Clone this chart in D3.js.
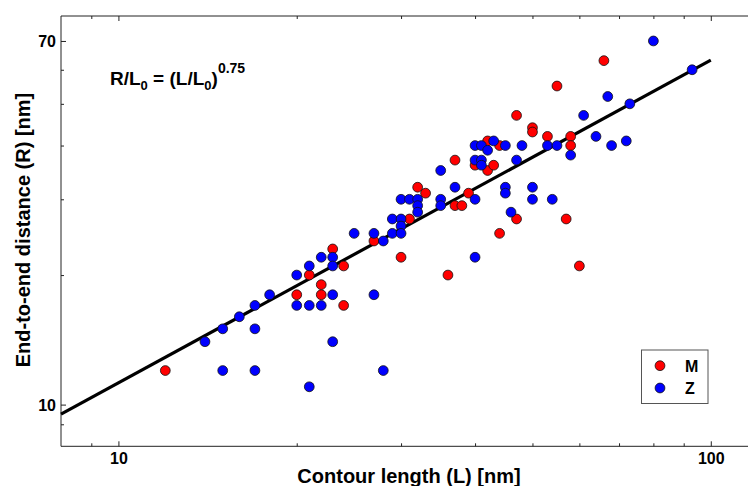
<!DOCTYPE html>
<html>
<head>
<meta charset="utf-8">
<script src="https://cdn.jsdelivr.net/npm/d3@7"></script>
<style>
  body { margin: 0; background: #fff; }
  svg { display: block; font-family: "Liberation Sans", Arial, sans-serif; font-weight: bold; }
</style>
</head>
<body>
<svg id="chart" width="748" height="486"></svg>
<script>
// contour length L and end-to-end distance R [nm]
const mL = [12, 20, 21, 22, 22, 23, 24, 24, 27, 30, 31, 32, 33, 36, 37, 37, 38, 39, 40, 42,
            42, 43, 44, 44, 47, 47, 50, 50, 53, 55, 57, 58, 58, 60, 66];
const mR = [12, 18, 20, 19, 18, 23, 21, 17, 24, 22, 27, 32, 31, 20, 37, 29, 29, 31, 36, 41,
            35, 36, 40, 25, 47, 27, 44, 43, 42, 55, 27, 42, 40, 21, 63];
const zL = [14, 15, 15, 16, 17, 17, 17, 18, 20, 20, 21, 21, 21, 22, 22, 23, 23, 23, 23, 25,
            27, 27, 28, 28, 29, 29, 30, 30, 30, 30, 31, 32, 32, 32, 35, 35, 35, 37, 40, 40,
            40, 40, 41, 41, 41, 42, 43, 45, 45, 45, 46, 47, 48, 50, 50, 53, 54, 55, 58, 61,
            64, 67, 68, 72, 73, 80, 93];
const zR = [14, 15, 12, 16, 17, 15, 12, 18, 20, 17, 21, 17, 11, 22, 17, 22, 21, 18, 14, 25,
            18, 25, 24, 12, 27, 25, 30, 27, 26, 25, 30, 30, 29, 28, 35, 30, 29, 32, 40, 37,
            30, 22, 40, 37, 36, 39, 41, 40, 32, 31, 28, 37, 40, 32, 30, 40, 30, 40, 38, 47,
            42, 52, 40, 41, 50, 70, 60];
// fitted power law R/L0 = (L/L0)^0.75, end points
const fitL = [8, 100];
const fitR = [9.5, 63.2];

const xMajor = [10, 100];
const xMinor = [9, 20, 30, 40, 50, 60, 70, 80, 90];
const yMajor = [10, 70];
const yMinor = [9, 20, 30, 40, 50, 60];

const series = [
  { name: 'M', color: '#ff0000', L: mL, R: mR },
  { name: 'Z', color: '#0000ff', L: zL, R: zR }
];

const svg = d3.select('#chart');
const plotLeft = 61, plotTop = 16, plotBottom = 446.3;

const x = d3.scaleLog().domain([8, 120]).range([plotLeft, 757.7]);
const y = d3.scaleLog().domain([8, 80]).range([plotBottom, plotTop]);

// spines
const axisColor = '#222';
svg.append('line').attr('x1', plotLeft).attr('x2', 748).attr('y1', plotTop).attr('y2', plotTop)
  .attr('stroke', axisColor);
svg.append('line').attr('x1', plotLeft).attr('x2', 748).attr('y1', plotBottom).attr('y2', plotBottom)
  .attr('stroke', axisColor);
svg.append('line').attr('x1', plotLeft).attr('x2', plotLeft).attr('y1', plotTop).attr('y2', plotBottom)
  .attr('stroke', axisColor);

function tickAxis(axis, tr, size, labels) {
  const g = svg.append('g').attr('transform', tr)
    .call(axis.tickSize(size).tickFormat(labels ? d3.format('d') : ''));
  g.select('.domain').remove();
  g.selectAll('line').attr('stroke', axisColor);
  g.selectAll('text').attr('fill', '#000').style('font-size', '16px').style('font-weight', 'bold')
    .style('font-family', '"Liberation Sans", Arial, sans-serif');
  return g;
}

// x ticks, inward on bottom and top
const gxb = tickAxis(d3.axisBottom(x).tickValues(xMajor), `translate(0,${plotBottom})`, -5, true);
gxb.selectAll('text').attr('y', 17.5).attr('dy', 0);
tickAxis(d3.axisBottom(x).tickValues(xMinor), `translate(0,${plotBottom})`, -3, false);
tickAxis(d3.axisTop(x).tickValues(xMajor), `translate(0,${plotTop})`, -5, false);
tickAxis(d3.axisTop(x).tickValues(xMinor), `translate(0,${plotTop})`, -3, false);

// y ticks, inward
const gyl = tickAxis(d3.axisLeft(y).tickValues(yMajor), `translate(${plotLeft},0)`, -5, true);
gyl.selectAll('text').attr('x', -5).attr('dy', '0.34em');
tickAxis(d3.axisLeft(y).tickValues(yMinor), `translate(${plotLeft},0)`, -3, false);

// fit line
svg.append('path')
  .datum(fitL.map((d, i) => [d, fitR[i]]))
  .attr('fill', 'none')
  .attr('stroke', '#000')
  .attr('stroke-width', 3.2)
  .attr('d', d3.line().x(d => x(d[0])).y(d => y(d[1])));

// points
series.forEach(s => {
  svg.append('g').selectAll('circle')
    .data(s.L.map((d, i) => [d, s.R[i]]))
    .join('circle')
    .attr('cx', d => x(d[0]))
    .attr('cy', d => y(d[1]))
    .attr('r', 4.9)
    .attr('fill', s.color)
    .attr('stroke', '#111')
    .attr('stroke-width', 0.8);
});

// formula
const f = svg.append('text').attr('x', 110).attr('y', 85)
  .style('white-space', 'pre').attr('fill', '#000');
f.append('tspan').style('font-size', '19px').text('R/L');
f.append('tspan').style('font-size', '13px').attr('dy', 5).text('0');
f.append('tspan').style('font-size', '19px').attr('dy', -5).text(' = (L/L');
f.append('tspan').style('font-size', '13px').attr('dy', 5).text('0');
f.append('tspan').style('font-size', '19px').attr('dy', -5).text(')');
f.append('tspan').style('font-size', '14px').attr('dy', -11.7).text('0.75');

// axis labels
svg.append('text')
  .attr('x', 409).attr('y', 483)
  .attr('text-anchor', 'middle')
  .style('font-size', '20px')
  .text('Contour length (L) [nm]');

svg.append('text')
  .attr('transform', 'translate(29.5,230) rotate(-90)')
  .attr('text-anchor', 'middle')
  .style('font-size', '20px')
  .text('End-to-end distance (R) [nm]');

// legend
const legend = svg.append('g');
legend.append('rect')
  .attr('x', 641.5).attr('y', 350).attr('width', 66.5).attr('height', 53.5)
  .attr('fill', '#fff').attr('stroke', '#555');
series.forEach((s, i) => {
  const cy = 365.7 + i * 22.3;
  legend.append('circle').attr('cx', 660).attr('cy', cy).attr('r', 4.9)
    .attr('fill', s.color).attr('stroke', '#111').attr('stroke-width', 0.8);
  legend.append('text').attr('x', 685).attr('y', cy + 6.3)
    .style('font-size', '16px').text(s.name);
});
</script>
</body>
</html>
